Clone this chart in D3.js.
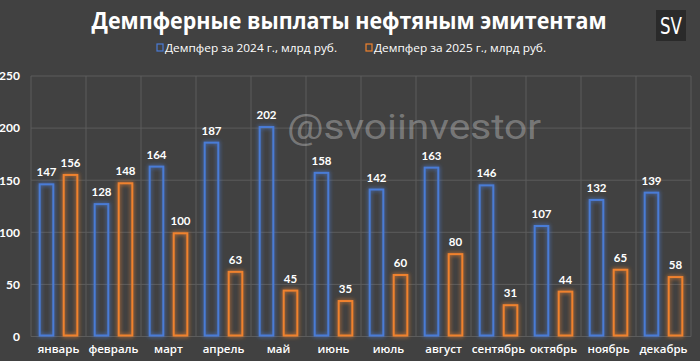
<!DOCTYPE html>
<html><head><meta charset="utf-8">
<script src="https://cdn.jsdelivr.net/npm/d3@7"></script>
<style>html,body{margin:0;padding:0;background:#404040;}svg{display:block;}</style>
</head><body>
<script>
const months = ["январь","февраль","март","апрель","май","июнь","июль","август","сентябрь","октябрь","ноябрь","декабрь"];
const values2024 = [147,128,164,187,202,158,142,163,146,107,132,139];
const values2025 = [156,148,100,63,45,35,60,80,31,44,65,58];
const seriesNames = ["Демпфер за 2024 г., млрд руб.","Демпфер за 2025 г., млрд руб."];
const yTicks = [0,50,100,150,200,250];
const titleText = "Демпферные выплаты нефтяным эмитентам";

const W=700,H=361;
const colors=["#4A7BD6","#F0822E"];
const svg=d3.select("body").append("svg").attr("width",W).attr("height",H);
svg.append("rect").attr("width",W).attr("height",H).attr("fill","#414141");

const defs=svg.append("defs");
const f=defs.append("filter").attr("id","glow").attr("x","-50%").attr("y","-50%").attr("width","200%").attr("height","200%");
f.append("feGaussianBlur").attr("in","SourceGraphic").attr("stdDeviation",2).attr("result","b");
const m=f.append("feMerge");
m.append("feMergeNode").attr("in","b");
m.append("feMergeNode").attr("in","SourceGraphic");

const x0=d3.scaleBand().domain(months).range([31,691]).padding(0);
const x1=d3.scaleBand().domain([0,1]).range([0,x0.bandwidth()]).paddingInner(0.35).paddingOuter(0.32);
const y=d3.scaleLinear().domain([0,250]).range([336.5,76]);

// grid
const g=svg.append("g");
g.selectAll(".h").data(yTicks).enter().append("line")
 .attr("x1",31).attr("x2",691).attr("y1",d=>y(d)).attr("y2",d=>y(d))
 .attr("stroke","#5c5c5c").attr("stroke-width",1);
const vb=months.map(mn=>x0(mn)).concat([x0(months[months.length-1])+x0.bandwidth()]);
g.selectAll(".v").data(vb).enter().append("line")
 .attr("x1",d=>d).attr("x2",d=>d).attr("y1",y(250)).attr("y2",y(0))
 .attr("stroke","#5c5c5c").attr("stroke-width",1);

// y axis labels
const yAxis=d3.axisLeft(y).tickValues(yTicks).tickSize(0).tickPadding(0);
const ya=svg.append("g").attr("transform","translate(20,0)").call(yAxis);
ya.select(".domain").remove();
ya.selectAll("text").attr("fill","#ffffff").attr("font-family","Lato, 'Open Sans', sans-serif").attr("font-weight","bold").attr("font-size",12);

// x axis labels
const xAxis=d3.axisBottom(x0).tickSize(0).tickPadding(0);
const xa=svg.append("g").attr("transform","translate(0,345)").call(xAxis);
xa.select(".domain").remove();
xa.selectAll("text").attr("fill","#ffffff").attr("font-family","'Open Sans', sans-serif").attr("font-weight","600").attr("font-size",11.5);

// watermark
svg.append("text").attr("x",414).attr("y",139).attr("text-anchor","middle")
 .attr("font-family","Roboto, 'Open Sans', sans-serif").attr("font-size",35)
 .attr("textLength",254).attr("lengthAdjust","spacingAndGlyphs")
 .attr("fill","#ffffff").attr("fill-opacity",0.3).text("@svoiinvestor");

// bars
const series=[values2024,values2025];
series.forEach((vals,si)=>{
  const gb=svg.append("g");
  gb.selectAll("rect").data(months).enter().append("rect")
   .attr("x",(d)=>x0(d)+x1(si)+1)
   .attr("y",(d,i)=>y(vals[i])+1)
   .attr("width",x1.bandwidth()-2)
   .attr("height",(d,i)=>y(0)-y(vals[i])-2)
   .attr("fill","none").attr("stroke",colors[si]).attr("stroke-width",2)
   .attr("filter","url(#glow)");
  gb.selectAll("text").data(months).enter().append("text")
   .attr("x",d=>x0(d)+x1(si)+x1.bandwidth()/2)
   .attr("y",(d,i)=>y(vals[i])-7)
   .attr("text-anchor","middle").attr("fill","#ffffff")
   .attr("font-family","Lato, 'Open Sans', sans-serif").attr("font-weight","bold").attr("font-size",11.5)
   .text((d,i)=>vals[i]);
});

// title
svg.append("text").attr("x",349).attr("y",29).attr("text-anchor","middle")
 .attr("font-family","'Open Sans', sans-serif").attr("font-weight","bold").attr("font-size",23)
 .attr("fill","#ffffff").attr("textLength",515).attr("lengthAdjust","spacingAndGlyphs").text(titleText);

// legend
const legX=[157,366];
seriesNames.forEach((n,i)=>{
  svg.append("rect").attr("x",legX[i]).attr("y",44).attr("width",6).attr("height",7)
   .attr("fill","none").attr("stroke",colors[i]).attr("stroke-width",1.2);
  svg.append("text").attr("x",legX[i]+8).attr("y",52).attr("fill","#ffffff")
   .attr("font-family","'Open Sans', sans-serif").attr("font-size",11)
   .attr("textLength",172).attr("lengthAdjust","spacingAndGlyphs").text(n);
});

// logo
svg.append("rect").attr("x",656).attr("y",10).attr("width",30).attr("height",31).attr("fill","#2a2a2a");
svg.append("text").attr("x",671).attr("y",34).attr("text-anchor","middle").attr("fill","#ffffff")
 .attr("font-family","'Liberation Sans Narrow','DejaVu Sans Condensed',sans-serif").attr("font-size",23)
 .attr("textLength",22).attr("lengthAdjust","spacingAndGlyphs").text("SV");
</script>
</body></html>
